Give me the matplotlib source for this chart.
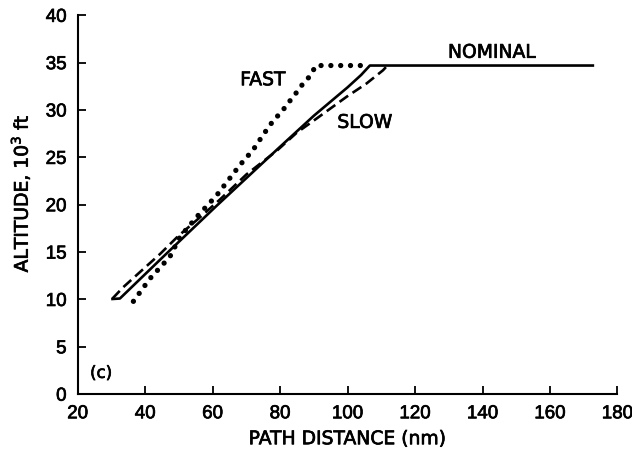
import numpy as np
import matplotlib
matplotlib.use('Agg')
import matplotlib.pyplot as plt
import matplotlib.patheffects as pe

#data
nominal_x = [30.3, 32.5, 45.3, 61.2, 79.0, 90.0, 100.0, 104.0, 106.6, 172.7]
nominal_y = [10.05, 10.1, 14.5, 19.9, 25.8, 29.4, 32.4, 33.7, 34.7, 34.7]

slow_x = [30.3, 33.5, 39.4, 44.4, 49.8, 56.0, 62.0, 70.0, 79.0, 84.9, 90.8, 99.7, 105.6, 110.5, 111.8]
slow_y = [10.1, 11.3, 13.2, 14.8, 16.7, 18.6, 20.5, 23.2, 25.7, 27.6, 29.1, 31.4, 32.8, 34.2, 34.7]

fast_x = [36.5, 41.4, 47.3, 50.3, 55.5, 61.2, 68.1, 72.0, 75.0, 78.0, 80.4, 83.4, 85.4, 86.8, 88.9, 90.6, 104.6]
fast_y = [9.8, 12.2, 14.5, 16.6, 18.8, 21.0, 24.2, 25.8, 27.4, 28.9, 29.8, 31.2, 32.1, 32.8, 33.6, 34.7, 34.7]

xticks = [20, 40, 60, 80, 100, 120, 140, 160, 180]
yticks = [0, 5, 10, 15, 20, 25, 30, 35, 40]

plt.rcParams['font.family'] = ['Liberation Sans', 'DejaVu Sans']
bold = [pe.withStroke(linewidth=0.5, foreground='black')]
lblfont = dict(family='DejaVu Sans', fontsize=13.5, path_effects=bold)

fig = plt.figure(figsize=(6.32, 4.51), dpi=100)
ax = fig.add_axes([0.123, 0.126, 0.854, 0.840])

ax.plot(nominal_x, nominal_y, color='black', lw=1.9, solid_joinstyle='round')
ax.plot(slow_x, slow_y, color='black', lw=1.9, dashes=(4, 2))
ax.plot(fast_x, fast_y, color='black', lw=3.8, linestyle=(0, (0.01, 1.85)), dash_capstyle='round')

ax.text(74.9, 33.2, 'FAST', ha='center', va='center', **lblfont)
ax.text(105.1, 28.7, 'SLOW', ha='center', va='center', **lblfont)
ax.text(142.8, 36.1, 'NOMINAL', ha='center', va='center', **lblfont)
ax.text(26.9, 2.25, '(c)', ha='center', va='center', family='DejaVu Sans', fontsize=12, path_effects=bold)

ax.set_xlim(20, 180)
ax.set_ylim(0, 40)
ax.set_xticks(xticks)
ax.set_yticks(yticks)
ax.tick_params(direction='in', length=6, width=1.3, labelsize=13.5, pad=8)
for lab in ax.get_xticklabels() + ax.get_yticklabels():
    lab.set_path_effects(bold)
ax.spines['top'].set_visible(False)
ax.spines['right'].set_visible(False)
ax.spines['left'].set_linewidth(1.5)
ax.spines['bottom'].set_linewidth(1.5)

ax.set_xlabel('PATH DISTANCE (nm)', labelpad=5, **lblfont)
ax.set_ylabel('ALTITUDE, 10$^3$ ft', **lblfont)
ax.yaxis.set_label_coords(-0.085, 0.53)

fig.savefig('out.png', dpi=100)
